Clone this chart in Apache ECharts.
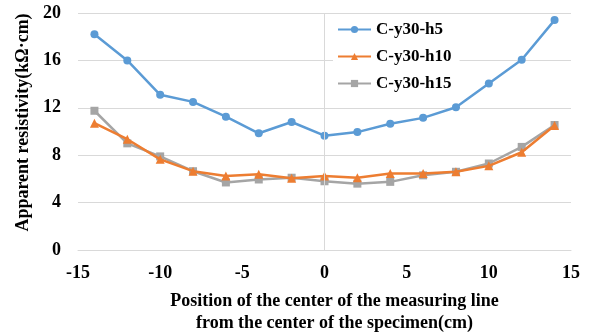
<!DOCTYPE html>
<html>
<head>
<meta charset="utf-8">
<script src="https://cdn.jsdelivr.net/npm/echarts@6/dist/echarts.min.js"></script>
<style>html,body{margin:0;padding:0;background:#fff}#c{width:592px;height:334px}</style>
</head>
<body>
<div id="c"></div>
<script>
const positions = [-14,-12,-10,-8,-6,-4,-2,0,2,4,6,8,10,12,14];
const seriesNames = ['C-y30-h5','C-y30-h10','C-y30-h15'];
const h5  = [18.2,16.0,13.1,12.5,11.25,9.85,10.8,9.65,9.95,10.65,11.15,12.05,14.05,16.05,19.4];
const h10 = [10.7,9.35,7.65,6.65,6.25,6.4,6.05,6.25,6.1,6.45,6.45,6.6,7.1,8.25,10.5];
const h15 = [11.75,9.0,7.9,6.65,5.7,5.95,6.1,5.8,5.6,5.75,6.3,6.6,7.3,8.7,10.55];
const xTicks = {min:-15, max:15, step:5};
const yTicks = {min:0, max:20, step:4};

const font = '"Liberation Serif","Times New Roman",serif';
const colors = ['#5B9BD5','#ED7D31','#A5A5A5'];
const symbols = ['circle','triangle','rect'];
const sizes = [8,9,8];
const datas = [h5,h10,h15];

const chart = echarts.init(document.getElementById('c'), null, {renderer:'canvas'});
const series = datas.map((d,i)=>({
  name: seriesNames[i],
  type:'line',
  data: positions.map((p,j)=>[p,d[j]]),
  symbol: symbols[i],
  symbolSize: sizes[i],
  showSymbol:true,
  lineStyle:{color:colors[i], width:2.5},
  itemStyle:{color:colors[i]},
  z: 3-i,
  animation:false
}));
series[0].markLine = {
  silent:true, symbol:'none', label:{show:false},
  lineStyle:{color:'#D9D9D9', width:1, type:'solid'},
  data:[{xAxis:0}],
  animation:false
};
chart.setOption({
  animation:false,
  backgroundColor:'#fff',
  grid:{left:78,right:21,top:13,bottom:84,containLabel:false,outerBoundsMode:'none'},
  legend:{
    orient:'vertical', left:333, top:17,
    itemWidth:33, itemHeight:9, itemGap:10,
    backgroundColor:'#fff', padding:[4,8,4,4],
    textStyle:{fontFamily:font, fontWeight:'bold', fontSize:17, color:'#000'},
    data: seriesNames
  },
  xAxis:{
    type:'value', min:xTicks.min, max:xTicks.max, interval:xTicks.step,
    axisLine:{show:true,onZero:false,lineStyle:{color:'#D9D9D9'}},
    axisTick:{show:false},
    splitLine:{show:false},
    axisLabel:{fontFamily:font,fontWeight:'bold',fontSize:18,color:'#000',margin:14},
    name:'Position of the center of the measuring line\nfrom the center of the specimen(cm)',
    nameLocation:'middle', nameGap:40,
    nameTextStyle:{fontFamily:font,fontWeight:'bold',fontSize:18,color:'#000',lineHeight:22,padding:[0,0,0,20]}
  },
  yAxis:{
    type:'value', min:yTicks.min, max:yTicks.max, interval:yTicks.step,
    axisLine:{show:false},
    axisTick:{show:false},
    splitLine:{show:true,lineStyle:{color:'#D9D9D9'}},
    axisLabel:{fontFamily:font,fontWeight:'bold',fontSize:18,color:'#000',margin:17},
    name:'Apparent resistivity(kΩ·cm)',
    nameLocation:'middle', nameGap:39,
    nameTextStyle:{fontFamily:font,fontWeight:'bold',fontSize:18,color:'#000',padding:[0,0,0,18]}
  },
  series: series
});
</script>
</body>
</html>
